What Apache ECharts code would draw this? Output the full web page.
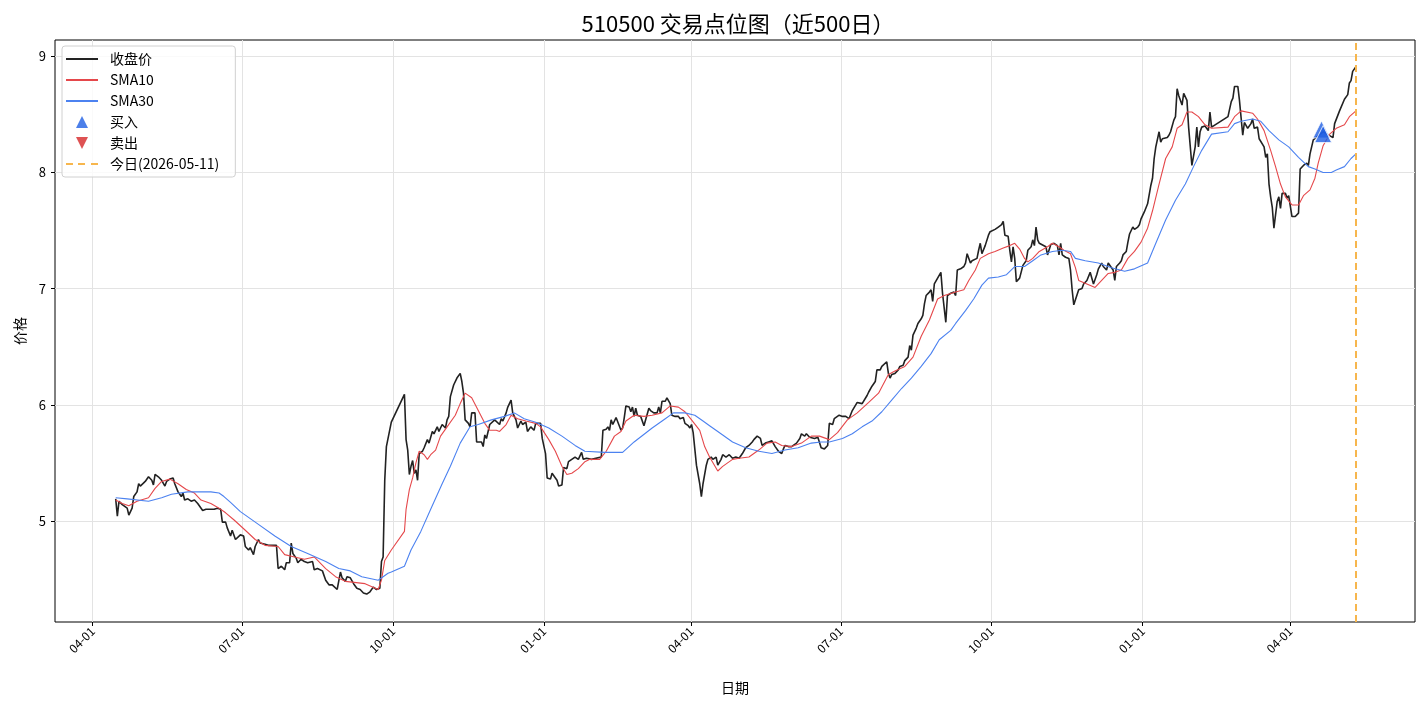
<!DOCTYPE html>
<html>
<head>
<meta charset="utf-8">
<title>510500 交易点位图</title>
<script src="https://cdn.jsdelivr.net/npm/echarts@6/dist/echarts.min.js"></script>
<style>
html, body { margin: 0; padding: 0; background: #fff; }
#canvas { width: 1428px; height: 706px; }
</style>
</head>
<body>
<div id="canvas"></div>
<script>
// values
var closePrice = [
['2024-04-15',5.19],['2024-04-16',5.04],['2024-04-17',5.17],['2024-04-19',5.14],['2024-04-22',5.11],['2024-04-23',5.05],['2024-04-25',5.11],['2024-04-26',5.21],['2024-04-28',5.25],['2024-04-29',5.32],['2024-04-30',5.30],
['2024-05-03',5.34],['2024-05-05',5.38],['2024-05-07',5.35],['2024-05-08',5.31],['2024-05-09',5.40],['2024-05-11',5.38],['2024-05-13',5.35],['2024-05-15',5.30],['2024-05-16',5.34],['2024-05-18',5.36],['2024-05-20',5.37],['2024-05-21',5.32],['2024-05-23',5.25],['2024-05-25',5.21],['2024-05-26',5.24],['2024-05-27',5.18],['2024-05-29',5.19],['2024-05-31',5.17],
['2024-06-02',5.18],['2024-06-04',5.15],['2024-06-07',5.09],['2024-06-09',5.10],['2024-06-12',5.10],['2024-06-14',5.10],['2024-06-16',5.11],['2024-06-18',5.10],['2024-06-19',4.99],['2024-06-21',4.99],['2024-06-22',4.94],['2024-06-24',4.87],['2024-06-25',4.92],['2024-06-27',4.84],['2024-06-28',4.85],['2024-06-30',4.88],
['2024-07-02',4.87],['2024-07-03',4.78],['2024-07-05',4.75],['2024-07-06',4.77],['2024-07-08',4.71],['2024-07-09',4.78],['2024-07-11',4.84],['2024-07-12',4.81],['2024-07-15',4.80],['2024-07-17',4.79],['2024-07-20',4.79],['2024-07-22',4.79],['2024-07-23',4.59],['2024-07-25',4.61],['2024-07-27',4.58],['2024-07-28',4.64],['2024-07-30',4.64],['2024-07-31',4.81],
['2024-08-01',4.72],['2024-08-03',4.68],['2024-08-04',4.64],['2024-08-06',4.67],['2024-08-08',4.65],['2024-08-10',4.64],['2024-08-13',4.65],['2024-08-14',4.58],['2024-08-16',4.59],['2024-08-19',4.57],['2024-08-21',4.49],['2024-08-23',4.45],['2024-08-25',4.45],['2024-08-28',4.41],['2024-08-30',4.56],['2024-08-31',4.51],
['2024-09-02',4.48],['2024-09-03',4.52],['2024-09-05',4.51],['2024-09-07',4.46],['2024-09-09',4.42],['2024-09-11',4.41],['2024-09-13',4.38],['2024-09-15',4.37],['2024-09-17',4.39],['2024-09-19',4.43],['2024-09-21',4.41],['2024-09-23',4.42],['2024-09-24',4.65],['2024-09-25',4.69],['2024-09-26',5.35],['2024-09-27',5.64],['2024-09-30',5.85],
['2024-10-08',6.09],['2024-10-09',5.70],['2024-10-10',5.61],['2024-10-11',5.40],['2024-10-12',5.47],['2024-10-13',5.52],['2024-10-14',5.41],['2024-10-15',5.44],['2024-10-16',5.35],['2024-10-17',5.58],['2024-10-19',5.60],['2024-10-20',5.63],['2024-10-22',5.70],['2024-10-23',5.67],['2024-10-25',5.77],['2024-10-26',5.75],['2024-10-28',5.81],['2024-10-29',5.77],['2024-10-31',5.83],
['2024-11-02',5.80],['2024-11-03',5.87],['2024-11-04',5.90],['2024-11-05',6.07],['2024-11-07',6.17],['2024-11-08',6.18],['2024-11-09',6.23],['2024-11-11',6.27],['2024-11-12',6.20],['2024-11-13',6.10],['2024-11-14',5.87],['2024-11-16',5.84],['2024-11-17',5.81],['2024-11-18',5.93],['2024-11-20',5.93],['2024-11-21',5.68],['2024-11-22',5.67],['2024-11-24',5.68],['2024-11-25',5.64],['2024-11-26',5.74],['2024-11-27',5.71],['2024-11-29',5.83],
['2024-12-02',5.87],['2024-12-03',5.86],['2024-12-05',5.83],['2024-12-06',5.88],['2024-12-07',5.86],['2024-12-09',5.93],['2024-12-10',5.98],['2024-12-12',6.04],['2024-12-13',5.93],['2024-12-15',5.87],['2024-12-16',5.80],['2024-12-18',5.86],['2024-12-19',5.83],['2024-12-21',5.85],['2024-12-22',5.77],['2024-12-24',5.81],['2024-12-26',5.78],['2024-12-27',5.84],['2024-12-28',5.84],['2024-12-30',5.84],['2024-12-31',5.71],
['2025-01-02',5.58],['2025-01-03',5.37],['2025-01-05',5.36],['2025-01-06',5.41],['2025-01-08',5.37],['2025-01-09',5.35],['2025-01-10',5.30],['2025-01-12',5.31],['2025-01-13',5.46],['2025-01-15',5.45],['2025-01-16',5.51],['2025-01-18',5.53],['2025-01-20',5.55],['2025-01-22',5.53],['2025-01-24',5.59],['2025-01-25',5.53],['2025-01-27',5.54],['2025-01-30',5.53],
['2025-02-05',5.55],['2025-02-06',5.78],['2025-02-08',5.79],['2025-02-09',5.81],['2025-02-10',5.78],['2025-02-11',5.87],['2025-02-12',5.83],['2025-02-14',5.89],['2025-02-15',5.88],['2025-02-17',5.78],['2025-02-18',5.80],['2025-02-19',5.89],['2025-02-20',5.99],['2025-02-22',5.98],['2025-02-23',5.94],['2025-02-24',5.98],['2025-02-25',5.90],['2025-02-26',5.97],['2025-02-27',5.91],
['2025-03-01',5.90],['2025-03-03',5.82],['2025-03-04',5.81],['2025-03-06',5.97],['2025-03-07',5.95],['2025-03-09',5.93],['2025-03-10',5.94],['2025-03-11',5.93],['2025-03-12',5.98],['2025-03-13',5.93],['2025-03-14',6.03],['2025-03-16',6.03],['2025-03-17',6.06],['2025-03-19',6.01],['2025-03-20',5.91],['2025-03-22',5.90],['2025-03-24',5.90],['2025-03-25',5.88],['2025-03-27',5.89],['2025-03-28',5.84],['2025-03-30',5.82],['2025-03-31',5.80],
['2025-04-01',5.83],['2025-04-02',5.76],['2025-04-04',5.48],['2025-04-06',5.32],['2025-04-07',5.21],['2025-04-08',5.32],['2025-04-10',5.48],['2025-04-11',5.53],['2025-04-13',5.55],['2025-04-14',5.53],['2025-04-16',5.55],['2025-04-17',5.48],['2025-04-19',5.53],['2025-04-20',5.57],['2025-04-22',5.55],['2025-04-24',5.57],['2025-04-26',5.54],['2025-04-28',5.55],['2025-04-30',5.54],
['2025-05-02',5.58],['2025-05-04',5.63],['2025-05-06',5.65],['2025-05-08',5.68],['2025-05-09',5.70],['2025-05-11',5.73],['2025-05-12',5.73],['2025-05-13',5.71],['2025-05-14',5.65],['2025-05-16',5.67],['2025-05-18',5.68],['2025-05-20',5.69],['2025-05-22',5.64],['2025-05-24',5.60],['2025-05-26',5.58],['2025-05-27',5.62],['2025-05-28',5.65],['2025-05-30',5.64],
['2025-06-01',5.64],['2025-06-04',5.67],['2025-06-06',5.71],['2025-06-07',5.75],['2025-06-09',5.73],['2025-06-10',5.75],['2025-06-12',5.72],['2025-06-13',5.73],['2025-06-15',5.71],['2025-06-17',5.72],['2025-06-19',5.63],['2025-06-21',5.62],['2025-06-23',5.65],['2025-06-24',5.84],['2025-06-26',5.83],['2025-06-27',5.88],['2025-06-30',5.91],
['2025-07-02',5.90],['2025-07-04',5.90],['2025-07-06',5.88],['2025-07-08',5.95],['2025-07-09',5.94],['2025-07-11',6.02],['2025-07-12',6.02],['2025-07-14',6.01],['2025-07-15',6.01],['2025-07-17',6.08],['2025-07-18',6.11],['2025-07-20',6.16],['2025-07-22',6.20],['2025-07-23',6.30],['2025-07-25',6.30],['2025-07-26',6.33],['2025-07-27',6.33],['2025-07-29',6.37],['2025-07-30',6.27],['2025-07-31',6.23],
['2025-08-01',6.26],['2025-08-03',6.27],['2025-08-05',6.30],['2025-08-06',6.33],['2025-08-08',6.34],['2025-08-09',6.38],['2025-08-11',6.41],['2025-08-12',6.51],['2025-08-13',6.47],['2025-08-14',6.60],['2025-08-16',6.66],['2025-08-17',6.70],['2025-08-19',6.74],['2025-08-20',6.77],['2025-08-21',6.87],['2025-08-22',6.94],['2025-08-24',6.97],['2025-08-25',6.99],['2025-08-26',6.89],['2025-08-27',7.04],['2025-08-29',7.09],['2025-08-31',7.14],
['2025-09-01',6.96],['2025-09-03',6.71],['2025-09-04',6.94],['2025-09-06',6.96],['2025-09-08',6.97],['2025-09-09',6.94],['2025-09-10',7.16],['2025-09-12',7.17],['2025-09-14',7.19],['2025-09-15',7.22],['2025-09-16',7.30],['2025-09-18',7.22],['2025-09-19',7.24],['2025-09-20',7.23],['2025-09-22',7.26],['2025-09-23',7.33],['2025-09-24',7.39],['2025-09-25',7.30],['2025-09-26',7.29],['2025-09-27',7.37],['2025-09-29',7.46],['2025-09-30',7.49],
['2025-10-03',7.51],['2025-10-05',7.53],['2025-10-07',7.55],['2025-10-08',7.58],['2025-10-09',7.46],['2025-10-11',7.45],['2025-10-12',7.33],['2025-10-13',7.23],['2025-10-14',7.36],['2025-10-15',7.26],['2025-10-16',7.06],['2025-10-18',7.09],['2025-10-19',7.09],['2025-10-20',7.20],['2025-10-22',7.24],['2025-10-23',7.33],['2025-10-25',7.36],['2025-10-26',7.42],['2025-10-27',7.37],['2025-10-28',7.53],['2025-10-29',7.42],['2025-10-30',7.39],['2025-10-31',7.39],
['2025-11-03',7.36],['2025-11-04',7.29],['2025-11-06',7.38],['2025-11-08',7.39],['2025-11-10',7.37],['2025-11-11',7.29],['2025-11-12',7.39],['2025-11-13',7.29],['2025-11-15',7.27],['2025-11-17',7.26],['2025-11-18',7.16],['2025-11-19',6.99],['2025-11-20',6.86],['2025-11-23',6.99],['2025-11-25',7.00],['2025-11-26',7.04],['2025-11-28',7.07],['2025-11-30',7.14],
['2025-12-02',7.04],['2025-12-04',7.12],['2025-12-05',7.17],['2025-12-07',7.22],['2025-12-08',7.19],['2025-12-10',7.16],['2025-12-11',7.22],['2025-12-13',7.18],['2025-12-14',7.16],['2025-12-15',7.07],['2025-12-16',7.19],['2025-12-18',7.22],['2025-12-19',7.24],['2025-12-20',7.29],['2025-12-22',7.32],['2025-12-23',7.40],['2025-12-24',7.47],['2025-12-26',7.53],['2025-12-27',7.51],['2025-12-29',7.53],['2025-12-30',7.55],['2025-12-31',7.60],
['2026-01-02',7.66],['2026-01-04',7.73],['2026-01-06',7.89],['2026-01-07',7.95],['2026-01-08',8.12],['2026-01-09',8.22],['2026-01-11',8.35],['2026-01-12',8.26],['2026-01-13',8.29],['2026-01-14',8.28],['2026-01-16',8.30],['2026-01-17',8.32],['2026-01-18',8.35],['2026-01-20',8.45],['2026-01-21',8.48],['2026-01-22',8.72],['2026-01-23',8.66],['2026-01-25',8.58],['2026-01-26',8.68],['2026-01-28',8.62],['2026-01-29',8.39],['2026-01-31',8.06],
['2026-02-02',8.22],['2026-02-03',8.39],['2026-02-04',8.22],['2026-02-05',8.35],['2026-02-06',8.39],['2026-02-08',8.40],['2026-02-10',8.36],['2026-02-11',8.52],['2026-02-12',8.39],['2026-02-22',8.48],['2026-02-24',8.61],['2026-02-25',8.64],['2026-02-26',8.74],['2026-02-28',8.74],
['2026-03-01',8.62],['2026-03-03',8.32],['2026-03-04',8.43],['2026-03-06',8.38],['2026-03-08',8.42],['2026-03-09',8.46],['2026-03-10',8.38],['2026-03-12',8.39],['2026-03-13',8.29],['2026-03-14',8.28],['2026-03-16',8.22],['2026-03-17',8.13],['2026-03-18',8.16],['2026-03-19',7.90],['2026-03-20',7.79],['2026-03-21',7.70],['2026-03-22',7.52],['2026-03-24',7.75],['2026-03-25',7.79],['2026-03-26',7.69],['2026-03-27',7.82],['2026-03-29',7.82],['2026-03-30',7.78],['2026-03-31',7.80],
['2026-04-02',7.62],['2026-04-04',7.62],['2026-04-06',7.65],['2026-04-07',8.03],['2026-04-08',8.02],['2026-04-09',8.06],['2026-04-11',8.08],['2026-04-12',8.06],['2026-04-13',8.16],['2026-04-14',8.15],['2026-04-15',8.28],['2026-04-21',8.35],['2026-04-27',8.30],['2026-04-28',8.42],
['2026-05-01',8.53],['2026-05-04',8.63],['2026-05-06',8.67],['2026-05-07',8.77],['2026-05-08',8.79],['2026-05-09',8.87],['2026-05-11',8.91]
];

var sma10 = [
['2024-04-15',5.18],['2024-04-19',5.15],['2024-04-23',5.13],['2024-04-28',5.17],['2024-05-05',5.20],['2024-05-09',5.28],['2024-05-13',5.34],['2024-05-18',5.36],['2024-05-23',5.32],['2024-05-28',5.27],['2024-06-02',5.24],['2024-06-06',5.18],['2024-06-12',5.15],['2024-06-17',5.11],['2024-06-21',5.07],['2024-06-26',5.01],
['2024-07-03',4.92],['2024-07-09',4.84],['2024-07-15',4.79],['2024-07-23',4.78],['2024-07-27',4.71],['2024-08-02',4.69],['2024-08-08',4.67],['2024-08-14',4.69],['2024-08-21',4.59],['2024-08-27',4.52],['2024-09-02',4.48],['2024-09-14',4.46],['2024-09-22',4.41],['2024-09-24',4.49],['2024-09-26',4.66],['2024-09-30',4.75],
['2024-10-08',4.91],['2024-10-09',5.10],['2024-10-11',5.27],['2024-10-13',5.37],['2024-10-15',5.50],['2024-10-17',5.60],['2024-10-20',5.57],['2024-10-22',5.53],['2024-10-24',5.57],['2024-10-27',5.61],['2024-10-30',5.73],['2024-11-03',5.81],['2024-11-08',5.91],['2024-11-11',6.01],['2024-11-14',6.10],['2024-11-18',6.06],['2024-11-22',5.95],['2024-11-26',5.84],['2024-11-29',5.78],
['2024-12-03',5.78],['2024-12-05',5.77],['2024-12-09',5.83],['2024-12-12',5.91],['2024-12-16',5.88],['2024-12-21',5.86],['2024-12-27',5.84],['2024-12-30',5.81],['2025-01-04',5.70],['2025-01-08',5.60],['2025-01-12',5.47],['2025-01-15',5.40],['2025-01-18',5.41],['2025-01-22',5.45],['2025-01-26',5.51],['2025-01-29',5.53],
['2025-02-04',5.53],['2025-02-08',5.60],['2025-02-13',5.73],['2025-02-17',5.77],['2025-02-20',5.86],['2025-02-25',5.91],['2025-03-03',5.90],['2025-03-08',5.91],['2025-03-14',5.93],['2025-03-19',5.99],['2025-03-24',5.98],['2025-03-28',5.94],['2025-04-01',5.87],['2025-04-06',5.78],['2025-04-09',5.64],['2025-04-12',5.55],['2025-04-17',5.43],['2025-04-20',5.47],['2025-04-26',5.53],['2025-04-30',5.54],
['2025-05-06',5.55],['2025-05-12',5.61],['2025-05-17',5.67],['2025-05-22',5.68],['2025-05-26',5.65],['2025-06-01',5.64],['2025-06-07',5.67],['2025-06-13',5.73],['2025-06-18',5.73],['2025-06-24',5.70],['2025-06-29',5.76],['2025-07-05',5.87],['2025-07-11',5.93],['2025-07-18',6.02],['2025-07-24',6.10],['2025-07-30',6.26],
['2025-08-03',6.29],['2025-08-09',6.33],['2025-08-14',6.41],['2025-08-19',6.59],['2025-08-24',6.73],['2025-08-29',6.91],['2025-09-02',6.94],['2025-09-09',6.97],['2025-09-14',6.99],['2025-09-17',7.07],['2025-09-21',7.16],['2025-09-24',7.26],['2025-09-29',7.30],
['2025-10-03',7.32],['2025-10-08',7.35],['2025-10-12',7.37],['2025-10-15',7.39],['2025-10-18',7.34],['2025-10-21',7.26],['2025-10-23',7.23],['2025-10-26',7.26],['2025-10-30',7.32],['2025-11-04',7.36],['2025-11-07',7.39],['2025-11-11',7.36],['2025-11-14',7.33],['2025-11-18',7.30],['2025-11-21',7.18],['2025-11-23',7.07],['2025-11-28',7.04],
['2025-12-03',7.01],['2025-12-07',7.07],['2025-12-11',7.13],['2025-12-15',7.14],['2025-12-19',7.16],['2025-12-23',7.26],['2025-12-27',7.32],['2025-12-31',7.40],['2026-01-04',7.52],['2026-01-07',7.67],['2026-01-11',7.90],['2026-01-15',8.12],['2026-01-19',8.22],['2026-01-22',8.38],['2026-01-25',8.41],['2026-01-28',8.52],['2026-01-31',8.52],
['2026-02-04',8.48],['2026-02-08',8.41],['2026-02-12',8.38],['2026-02-22',8.39],['2026-02-26',8.48],['2026-03-02',8.53],['2026-03-09',8.51],['2026-03-12',8.46],['2026-03-16',8.36],['2026-03-20',8.19],['2026-03-23',8.05],['2026-03-26',7.90],['2026-03-29',7.79],
['2026-04-02',7.72],['2026-04-06',7.72],['2026-04-09',7.80],['2026-04-13',7.85],['2026-04-16',7.95],['2026-04-18',8.08],['2026-04-21',8.23],['2026-04-25',8.33],['2026-04-29',8.38],['2026-05-04',8.41],['2026-05-07',8.48],['2026-05-11',8.53]
];

var sma30 = [
['2024-04-15',5.20],['2024-04-22',5.19],['2024-05-05',5.17],['2024-05-13',5.20],['2024-05-19',5.23],['2024-05-29',5.25],['2024-06-12',5.25],['2024-06-17',5.24],['2024-06-20',5.21],['2024-06-24',5.16],['2024-06-30',5.08],
['2024-07-11',4.97],['2024-07-21',4.87],['2024-07-31',4.78],['2024-08-10',4.72],['2024-08-21',4.65],['2024-08-29',4.59],['2024-09-05',4.57],['2024-09-12',4.52],['2024-09-22',4.49],['2024-09-28',4.55],['2024-09-30',4.56],
['2024-10-08',4.61],['2024-10-12',4.75],['2024-10-18',4.91],['2024-10-24',5.10],['2024-10-31',5.32],['2024-11-05',5.47],['2024-11-11',5.67],['2024-11-17',5.81],['2024-11-22',5.83],['2024-11-30',5.87],['2024-12-08',5.90],['2024-12-14',5.93],['2024-12-20',5.88],['2024-12-27',5.85],
['2025-01-04',5.80],['2025-01-12',5.73],['2025-01-20',5.65],['2025-01-26',5.60],['2025-02-07',5.59],['2025-02-18',5.59],['2025-02-25',5.68],['2025-03-08',5.80],['2025-03-16',5.88],['2025-03-21',5.93],['2025-03-28',5.93],['2025-04-03',5.91],['2025-04-08',5.86],['2025-04-12',5.82],['2025-04-17',5.77],['2025-04-26',5.68],
['2025-05-04',5.63],['2025-05-12',5.60],['2025-05-20',5.58],['2025-05-28',5.61],['2025-06-05',5.63],['2025-06-13',5.67],['2025-06-19',5.68],['2025-06-24',5.68],['2025-07-02',5.71],['2025-07-08',5.75],['2025-07-14',5.81],['2025-07-20',5.86],['2025-07-26',5.94],
['2025-08-01',6.04],['2025-08-07',6.14],['2025-08-13',6.23],['2025-08-19',6.33],['2025-08-25',6.44],['2025-08-30',6.56],['2025-09-06',6.64],['2025-09-09',6.70],['2025-09-15',6.81],['2025-09-20',6.91],['2025-09-25',7.03],['2025-09-29',7.09],
['2025-10-05',7.10],['2025-10-10',7.12],['2025-10-15',7.19],['2025-10-21',7.19],['2025-10-26',7.24],['2025-10-31',7.29],['2025-11-07',7.32],['2025-11-13',7.33],['2025-11-18',7.32],['2025-11-21',7.26],['2025-11-27',7.24],
['2025-12-05',7.22],['2025-12-13',7.18],['2025-12-21',7.15],['2025-12-27',7.17],['2026-01-04',7.22],['2026-01-09',7.39],['2026-01-15',7.59],['2026-01-21',7.76],['2026-01-27',7.90],['2026-02-01',8.05],['2026-02-06',8.19],['2026-02-12',8.33],
['2026-02-22',8.35],['2026-02-26',8.42],['2026-03-02',8.44],['2026-03-09',8.46],['2026-03-14',8.44],['2026-03-19',8.36],['2026-03-25',8.28],['2026-03-31',8.22],['2026-04-06',8.13],['2026-04-12',8.05],['2026-04-16',8.03],['2026-04-21',8.00],['2026-04-26',8.00],['2026-04-29',8.02],['2026-05-04',8.05],['2026-05-08',8.12],['2026-05-11',8.16]
];

var buyPoints = [['2026-04-20', 8.37], ['2026-04-21', 8.33]];
var sellPoints = [];
var todayDate = '2026-05-11';

var xTickDates = ['2024-04-01','2024-07-01','2024-10-01','2025-01-01','2025-04-01','2025-07-01','2025-10-01','2026-01-01','2026-04-01'];
var yTickValues = [5, 6, 7, 8, 9];
var xRange = ['2024-03-09', '2026-06-16'];
var yRange = [4.13, 9.14];

var font = '"Noto Sans CJK SC", "DejaVu Sans", sans-serif';

// legend icons drawn as small paths (keep aspect)
var iconLine = 'path://M0,0H32V2H0Z';
var iconDash = 'path://M0,0H7V2H0Z M12,0H19V2H12Z M25,0H32V2H25Z';
var triUp = 'path://M5,0L10,10L0,10Z';
var triDown = 'path://M0,0L10,0L5,10Z';

var pad2 = function(n) {
    return n < 10 ? '0' + n : '' + n;
};

// 'YYYY-MM-DD' -> timestamp (local time)
var toTime = function(s) {
    var p = s.split('-');
    return new Date(+p[0], +p[1] - 1, +p[2]).getTime();
};

var toPoints = function(arr) {
    return arr.map(function(p) { return [toTime(p[0]), p[1]]; });
};

var load_chart = function() {
    var myChart = echarts.init(document.getElementById('canvas'));
    var xTicks = xTickDates.map(toTime);
    var todayName = '今日(' + todayDate + ')';

    var option = {
        animation: false,
        textStyle: {fontFamily: font, color: '#000'},
        title: {
            text: '510500 交易点位图（近500日）',
            left: 733,
            top: 8,
            textAlign: 'center',
            textStyle: {fontFamily: font, fontSize: 22, fontWeight: 'normal', color: '#000'}
        },
        grid: {
            left: 55, right: 13, top: 40, bottom: 84,
            show: true, borderColor: '#000', borderWidth: 1
        },
        legend: {
            orient: 'vertical',
            left: 62,
            top: 46,
            padding: [6, 16, 6, 4],
            itemGap: 7,
            itemWidth: 32,
            itemHeight: 12,
            backgroundColor: 'rgba(255,255,255,0.8)',
            borderColor: '#d0d0d0',
            borderWidth: 1,
            borderRadius: 3,
            itemStyle: {borderWidth: 0},
            textStyle: {fontFamily: font, fontSize: 14, lineHeight: 14, color: '#000', padding: [0, 0, 0, 7]},
            data: [
                {name: '收盘价', icon: iconLine},
                {name: 'SMA10', icon: iconLine},
                {name: 'SMA30', icon: iconLine},
                {name: '买入', icon: triUp},
                {name: '卖出', icon: triDown},
                {name: todayName, icon: iconDash}
            ]
        },
        xAxis: {
            type: 'value',
            min: toTime(xRange[0]),
            max: toTime(xRange[1]),
            name: '日期',
            nameLocation: 'middle',
            nameGap: 59,
            nameTextStyle: {fontFamily: font, fontSize: 14, color: '#000'},
            axisLine: {show: false},
            axisTick: {show: true, length: 4, customValues: xTicks, lineStyle: {color: '#000'}},
            axisLabel: {
                customValues: xTicks,
                rotate: 45,
                margin: 7,
                fontSize: 12,
                color: '#000',
                formatter: function(v) {
                    var d = new Date(v);
                    return pad2(d.getMonth() + 1) + '-' + pad2(d.getDate());
                }
            },
            splitLine: {show: true, lineStyle: {color: '#e3e3e3', width: 1}}
        },
        yAxis: {
            type: 'value',
            min: yRange[0],
            max: yRange[1],
            name: '价格',
            nameLocation: 'middle',
            nameGap: 28,
            nameRotate: 90,
            nameTextStyle: {fontFamily: font, fontSize: 14, color: '#000'},
            axisLine: {show: false},
            axisTick: {show: true, length: 4, customValues: yTickValues, lineStyle: {color: '#000'}},
            axisLabel: {customValues: yTickValues, margin: 9, fontSize: 13, color: '#000'},
            splitLine: {show: true, lineStyle: {color: '#e3e3e3', width: 1}}
        },
        series: [
            {
                name: '收盘价',
                type: 'line',
                data: toPoints(closePrice),
                symbol: 'none',
                symbolKeepAspect: true,
                lineStyle: {color: '#222', width: 1.6},
                itemStyle: {color: '#222'}
            },
            {
                name: 'SMA10',
                type: 'line',
                data: toPoints(sma10),
                symbol: 'none',
                symbolKeepAspect: true,
                lineStyle: {color: '#e5484b', width: 1.1},
                itemStyle: {color: '#e5484b'}
            },
            {
                name: 'SMA30',
                type: 'line',
                data: toPoints(sma30),
                symbol: 'none',
                symbolKeepAspect: true,
                lineStyle: {color: '#4c82f0', width: 1.1},
                itemStyle: {color: '#4c82f0'}
            },
            {
                name: '买入',
                type: 'scatter',
                data: toPoints(buyPoints),
                symbol: triUp,
                symbolSize: 17,
                symbolKeepAspect: true,
                z: 5,
                itemStyle: {color: '#1f5fe3', borderColor: '#fff', borderWidth: 1}
            },
            {
                name: '卖出',
                type: 'scatter',
                data: toPoints(sellPoints),
                symbol: triDown,
                symbolSize: 17,
                symbolKeepAspect: true,
                z: 5,
                itemStyle: {color: '#d62728', borderColor: '#fff', borderWidth: 1}
            },
            {
                name: todayName,
                type: 'line',
                data: [],
                symbol: 'none',
                symbolKeepAspect: true,
                lineStyle: {color: '#f7b64d', width: 2, type: [7, 4]},
                itemStyle: {color: '#f7b64d'},
                markLine: {
                    silent: true,
                    symbol: ['none', 'none'],
                    label: {show: false},
                    lineStyle: {color: '#f7b64d', width: 2, type: [7, 4]},
                    data: [{xAxis: toTime(todayDate)}]
                }
            }
        ]
    };
    myChart.setOption(option);
};

load_chart();
</script>
</body>
</html>
